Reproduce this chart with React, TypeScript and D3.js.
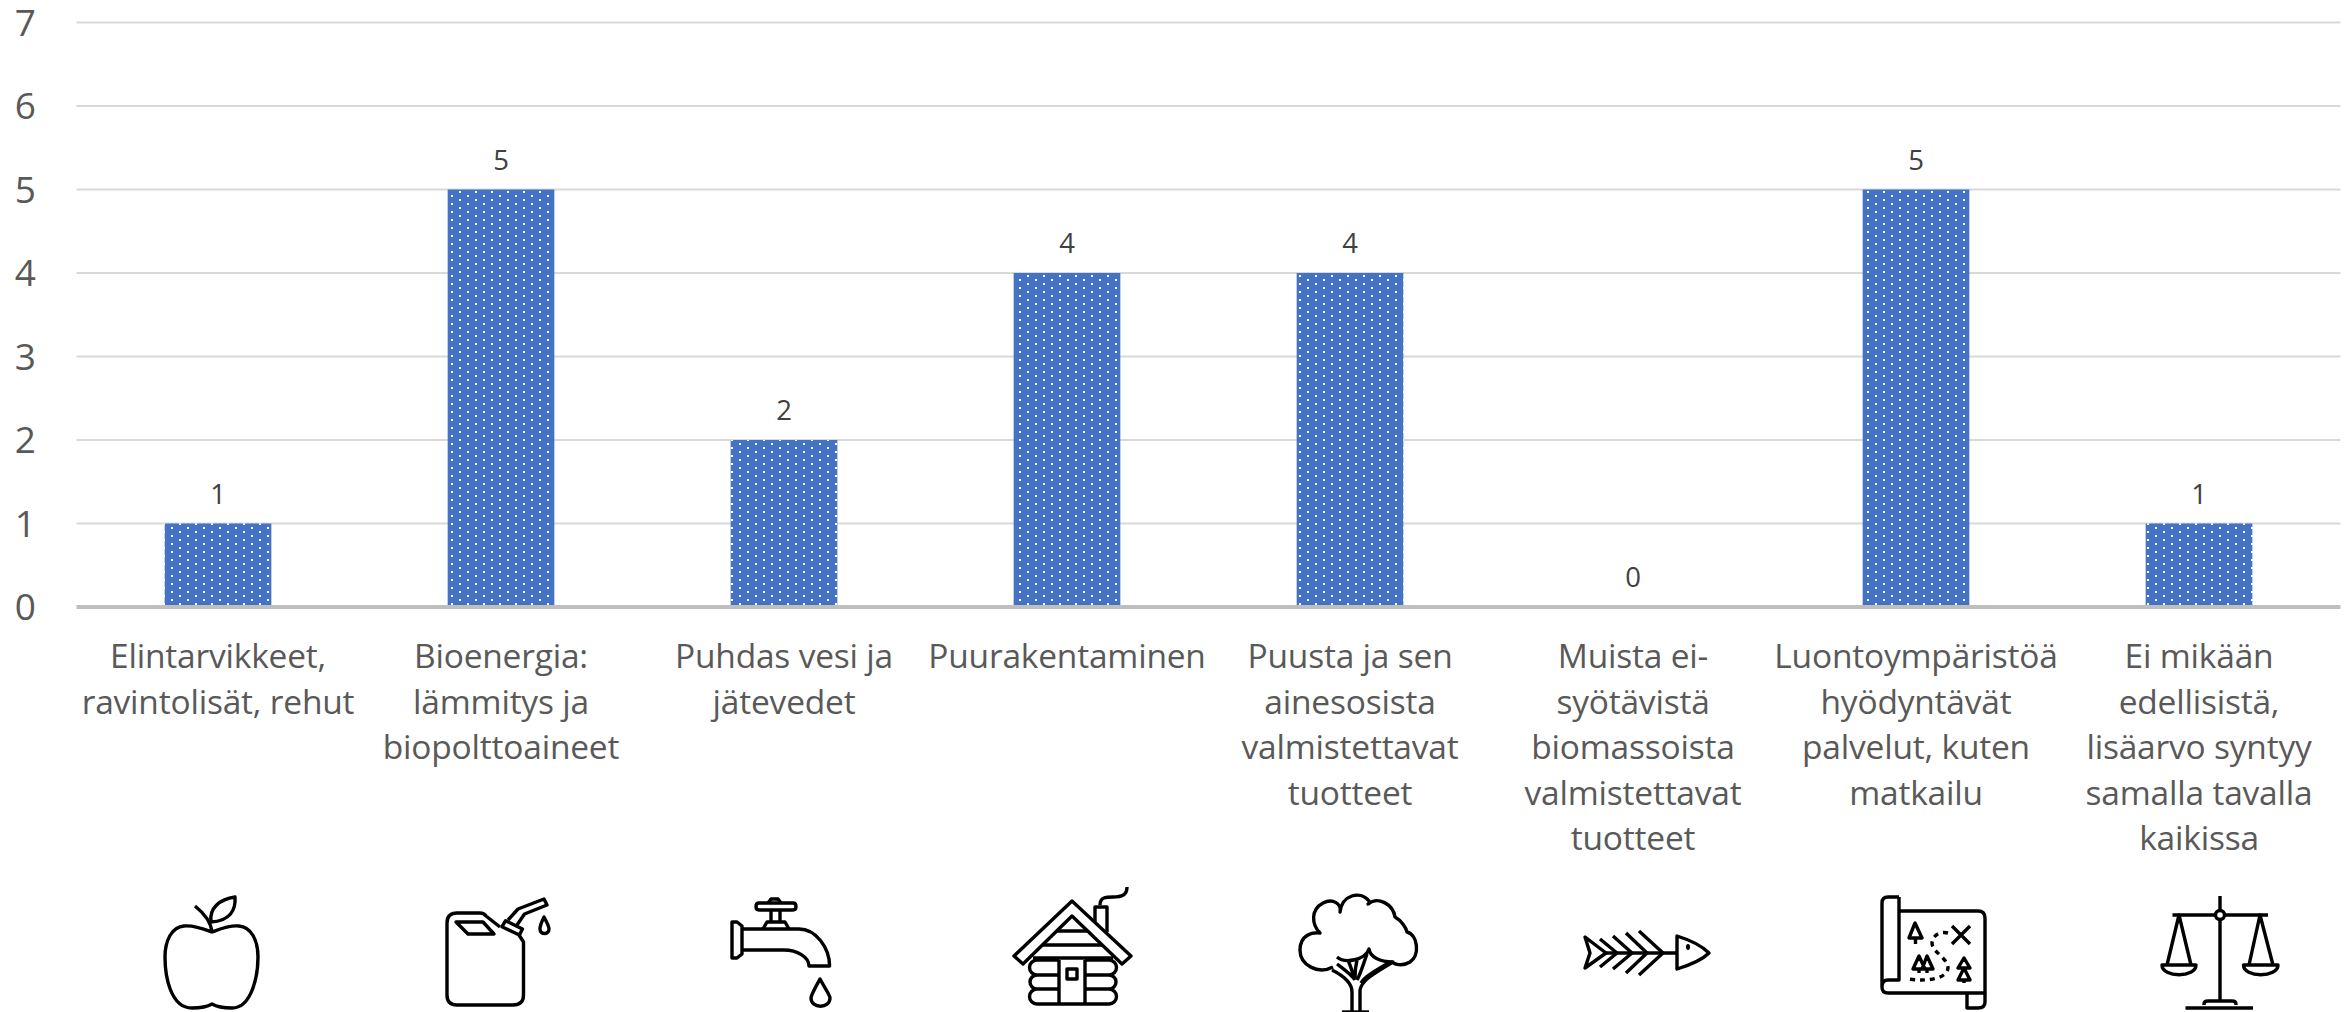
import * as d3 from 'd3';

const categories = [
  ['Elintarvikkeet,', 'ravintolisät, rehut'],
  ['Bioenergia:', 'lämmitys ja', 'biopolttoaineet'],
  ['Puhdas vesi ja', 'jätevedet'],
  ['Puurakentaminen'],
  ['Puusta ja sen', 'ainesosista', 'valmistettavat', 'tuotteet'],
  ['Muista ei-', 'syötävistä', 'biomassoista', 'valmistettavat', 'tuotteet'],
  ['Luontoympäristöä', 'hyödyntävät', 'palvelut, kuten', 'matkailu'],
  ['Ei mikään', 'edellisistä,', 'lisäarvo syntyy', 'samalla tavalla', 'kaikissa'],
];
const values = [1, 5, 2, 4, 4, 0, 5, 1];
const yTicks = [0, 1, 2, 3, 4, 5, 6, 7];

const width = 2351;
const height = 1012;
const font = '"Open Sans", sans-serif';

const x = d3.scaleBand<number>().domain(d3.range(categories.length)).range([76.5, 2340.5]).paddingInner(0.623).paddingOuter(0.3115);
const y = d3.scaleLinear().domain([0, 7]).range([607, 22.5]);

// line icons under the labels in page pixels
const apple = [
  'M212 932C204 929 194 925 184 926C172 927 165 940 165 957C165 975 170 1008 192 1008C200 1008 207 1007 212 1004C217 1007 224 1008 232 1008C252 1008 258 975 258 957C258 940 251 927 239 926C229 925 220 929 212 932Z',
  'M212 932C211 922 205 914 195 906',
  'M211 922C209 908 220 899 235 897C236 910 230 921 211 922Z',
];
const jerrycan = [
  'M457 913H480Q484 913 486 916L500 927M519 935L523.5 942V995Q523.5 1005 513 1005H457Q447 1005 447 995V923Q447 913 457 913',
  'M456 922H483L494 934H468Z',
  'M505.6 920.7L522.4 929L519.4 935L502 926.7Z',
  'M508 920L518 909L544 899L547 905L524.5 914L517 925',
  'M544 917C541 923 540 926 540 929C540 935 549 935 549 929C549 926 547 923 544 917Z',
];
const faucet = [
  'M732 922L737 922L742 926V954L737 958H732Z',
  'M743 929H799C816 929 829.6 948 829.6 966H809C809 957 797 950 784 950H743',
  'M763 929L767 922H785L789 929',
  'M771 922V910M780 922V910',
  'M759 903H793Q796 903 796 906.5Q796 910 793 910H759Q756 910 756 906.5Q756 903 759 903Z',
  'M768 903L771 899H778L781 903',
  'M820 979C814 990 811 995 811 998C811 1009 830 1009 830 998C830 995 826 990 820 979Z',
];
const house = [
  'M1072 901L1131 956L1122 964L1072 916L1023 964L1014 956Z',
  'M1095 922V907H1107V932',
  'M1100 905C1100 897 1106 897 1113 897C1122 897 1127 895 1127 887',
  'M1057 931H1087M1043 945H1102M1033 958H1113',
  'M1059 960H1037A7.5 7.5 0 0 0 1037 975H1059M1037 975A7 7 0 0 0 1037 989H1059M1037 989A7.5 7.5 0 0 0 1037 1004H1085',
  'M1085 960H1109A7.5 7.5 0 0 1 1109 975H1085M1109 975A7 7 0 0 1 1109 989H1085M1109 989A7.5 7.5 0 0 1 1109 1004H1085',
  'M1059 960V1004M1085 960V1004',
  'M1067 969H1077V979H1067Z',
];
const tree = [
  'M1333 967C1318 975 1300 965 1300 950C1300 935 1312 932 1320 933C1312 925 1310 910 1323 903C1333 898 1342 904 1340 912C1342 895 1360 890 1369 901C1371 903 1368 904 1368 904C1378 896 1393 904 1395 917C1402 921 1406 928 1407 932C1418 935 1420 955 1410 962C1402 967 1393 964 1393 962C1380 962 1370 957 1369 949C1365 960 1345 964 1337 957',
  'M1352 1012V992C1352 982 1342 975 1332 970',
  'M1360 1012V990C1362 980 1372 975 1393 962',
  'M1337 964C1345 970 1352 975 1355 980M1348 960C1352 970 1354 975 1354 979M1357 960C1355 968 1355 973 1355 978M1367 954C1362 968 1360 975 1357 980M1390 962C1377 970 1365 976 1361 983',
  'M1342 1012H1369',
];
const fish = [
  'M1585 937L1606 953L1585 968L1590 953Z',
  'M1606 953H1677',
  'M1600 939L1617 953L1600 967M1613 936L1632 953L1613 969M1626 933L1647 953L1626 973M1639 931L1663 953L1639 975',
  'M1677 936C1690 940 1702 946 1709 953C1702 960 1690 965 1677 969Z',
];
const mapScroll = [
  'M1899 897V980H1888Q1882 980 1882 987M1899 897H1888Q1882 897 1882 903V987',
  'M1899 911H1978Q1985 911 1985 918V993H1888Q1882 993 1882 987',
  'M1985 993V1002Q1985 1008 1978 1008H1967V993',
  'M1915 923L1909 938H1922ZM1915.5 938V944',
  'M1919 956L1913 969H1925ZM1927 956L1922 969H1933ZM1919 969V973M1927 969V973',
  'M1964 958L1958 968H1970ZM1964 968L1958 980H1970ZM1964 980V983',
  'M1952 926L1970 944M1970 926L1952 944',
];
const mapTrail = 'M1948 933C1940 931 1933 935 1932 943C1932 952 1948 958 1948 968C1947 978 1930 982 1908 979';
const balance = [
  'M2220 896V910M2220 920V1001',
  'M2172.5 915H2215M2225 915H2268',
  'M2215.5 915A4.5 4.5 0 1 0 2224.5 915A4.5 4.5 0 1 0 2215.5 915Z',
  'M2167 965L2179 915L2191 965M2249 965L2260 915L2273 965',
  'M2162 965H2196C2196 978 2162 978 2162 965ZM2243.5 965H2278C2278 978 2243.5 978 2243.5 965Z',
  'M2204 1005V1004Q2204 1001 2208 1001H2232Q2236 1001 2236 1004V1005',
  'M2185.5 1008H2253',
];
const icons = [apple, jerrycan, faucet, house, tree, fish, mapScroll, balance];

export default function App() {
  return (
    <svg width={width} height={height} style={{ position: 'absolute', left: 0, top: 0, background: '#fff' }} fontFamily={font}>
      <defs>
        <pattern id="dots" patternUnits="userSpaceOnUse" x={171} y={527} width={16} height={8}>
          <rect width={16} height={8} fill="#4472c4" />
          <rect x={0} y={0} width={2} height={2} fill="#fff" />
          <rect x={8} y={4} width={2} height={2} fill="#fff" />
        </pattern>
      </defs>

      {yTicks.map(t => (
        <g key={t}>
          {t > 0 && <line x1={76.5} x2={2340.5} y1={y(t)} y2={y(t)} stroke="#d9d9d9" strokeWidth={2} />}
          <text x={36} y={y(t) + 13} textAnchor="end" fontSize={37} fill="#595959">{t}</text>
        </g>
      ))}

      {values.map((v, i) => (
        <g key={i}>
          <rect x={x(i)} y={y(v)} width={x.bandwidth()} height={y(0) - y(v)} fill="url(#dots)" />
          <text x={x(i)! + x.bandwidth() / 2} y={y(v) - 20} textAnchor="middle" fontSize={27.5} fill="#404040">{v}</text>
        </g>
      ))}

      <line x1={76.5} x2={2340.5} y1={y(0)} y2={y(0)} stroke="#bfbfbf" strokeWidth={4} />

      {categories.map((lines, i) => (
        <text key={i} textAnchor="middle" fontSize={33.5} fill="#595959" letterSpacing={-0.2}>
          {lines.map((l, j) => (
            <tspan key={j} x={x(i)! + x.bandwidth() / 2} y={668 + j * 45.6}>{l}</tspan>
          ))}
        </text>
      ))}

      <g fill="none" stroke="#000" strokeWidth={3.4} strokeLinejoin="round">
        {icons.map((paths, i) => (
          <g key={i}>
            {paths.map((d, j) => <path key={j} d={d} />)}
          </g>
        ))}
        <path d={mapTrail} strokeDasharray="5 5" />
        <ellipse cx={1688} cy={947} rx={2} ry={3} fill="#000" stroke="none" />
      </g>
    </svg>
  );
}
